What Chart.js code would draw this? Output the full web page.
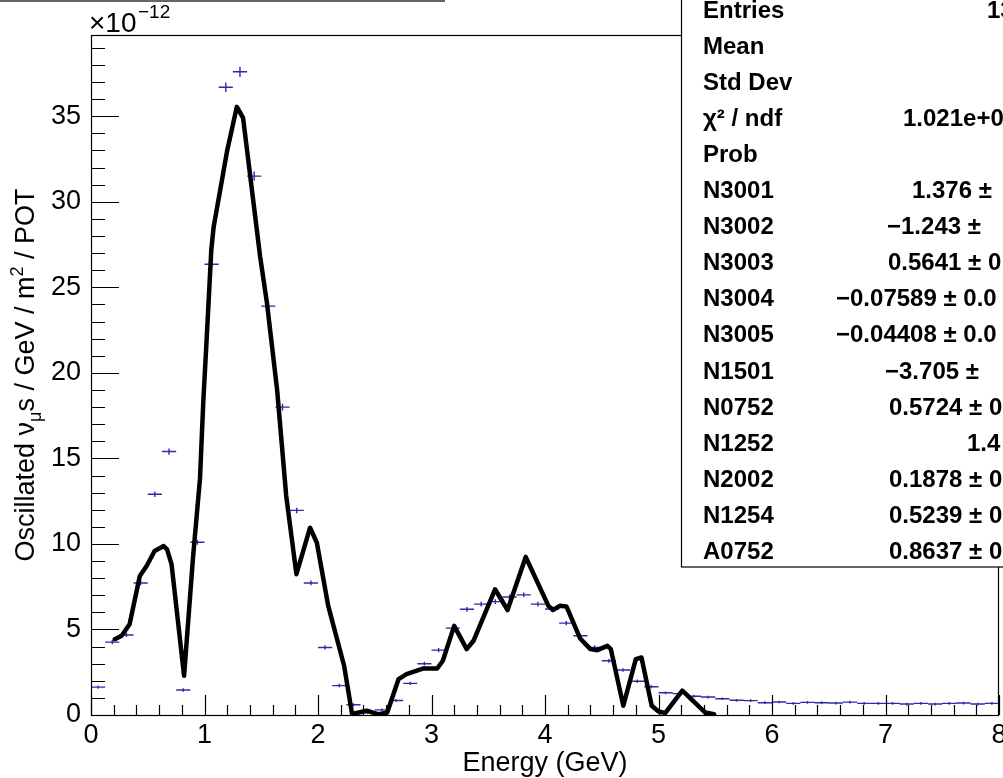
<!DOCTYPE html>
<html>
<head>
<meta charset="utf-8">
<script src="https://cdn.jsdelivr.net/npm/chart.js@4.4.0/dist/chart.umd.min.js"></script>
<style>
  html, body { margin: 0; padding: 0; background: #fff; }
  #wrap { width: 1003px; height: 778px; }
</style>
</head>
<body>
<div id="wrap"><canvas id="chart" width="1003" height="778"></canvas></div>
<script>
// energy bin centres (GeV), bin width 0.125
const binCenters = [
  0.0625, 0.1875, 0.3125, 0.4375, 0.5625, 0.6875, 0.8125, 0.9375,
  1.0625, 1.1875, 1.3125, 1.4375, 1.5625, 1.6875, 1.8125, 1.9375,
  2.0625, 2.1875, 2.3125, 2.4375, 2.5625, 2.6875, 2.8125, 2.9375,
  3.0625, 3.1875, 3.3125, 3.4375, 3.5625, 3.6875, 3.8125, 3.9375,
  4.0625, 4.1875, 4.3125, 4.4375, 4.5625, 4.6875, 4.8125, 4.9375,
  5.0625, 5.1875, 5.3125, 5.4375, 5.5625, 5.6875, 5.8125, 5.9375,
  6.0625, 6.1875, 6.3125, 6.4375, 6.5625, 6.6875, 6.8125, 6.9375,
  7.0625, 7.1875, 7.3125, 7.4375, 7.5625, 7.6875, 7.8125, 7.9375
];
const halfBin = 0.0625;

// oscillated numu flux, units of 1e-12
const fluxValues = [
  1.63, 4.26, 4.68, 7.72, 12.9, 15.4, 1.46, 10.1,
  26.35, 36.7, 37.6, 31.5, 23.9, 18.0, 11.96, 7.72,
  3.95, 1.72, 0.6, 0.15, 0.3, 0.85, 1.85, 3.0,
  3.79, 5.08, 6.18, 6.48, 6.63, 6.9, 7.02, 6.48,
  6.2, 5.37, 4.63, 3.95, 3.17, 2.63, 1.97, 1.65,
  1.30, 1.25, 1.10, 1.05, 0.95, 0.86, 0.84, 0.72,
  0.76, 0.68, 0.74, 0.72, 0.70, 0.75, 0.68, 0.68,
  0.68, 0.64, 0.68, 0.64, 0.68, 0.70, 0.64, 0.68
];
const fluxErrors = [
  0.10, 0.12, 0.12, 0.14, 0.16, 0.18, 0.10, 0.15,
  0.24, 0.28, 0.30, 0.27, 0.23, 0.20, 0.16, 0.14,
  0.12, 0.10, 0.09, 0.08, 0.08, 0.09, 0.10, 0.11,
  0.12, 0.13, 0.14, 0.14, 0.14, 0.14, 0.14, 0.14,
  0.14, 0.13, 0.12, 0.12, 0.11, 0.10, 0.10, 0.09,
  0.08, 0.08, 0.08, 0.08, 0.08, 0.08, 0.08, 0.08,
  0.08, 0.08, 0.08, 0.08, 0.08, 0.08, 0.08, 0.08,
  0.08, 0.08, 0.08, 0.08, 0.08, 0.08, 0.08, 0.08
];

// fit function, sampled
const fitEnergy = [
  0.21, 0.27, 0.34, 0.43, 0.49, 0.56, 0.64, 0.67, 0.71, 0.82, 0.90, 0.96,
  0.99, 1.02, 1.06, 1.08, 1.20, 1.285, 1.34, 1.49, 1.55, 1.64, 1.72, 1.81,
  1.93, 1.99, 2.09, 2.23, 2.30, 2.36, 2.43, 2.52, 2.55, 2.61, 2.71, 2.78,
  2.93, 3.05, 3.10, 3.20, 3.31, 3.37, 3.56, 3.67, 3.83, 4.03, 4.07, 4.13,
  4.19, 4.31, 4.40, 4.46, 4.55, 4.58, 4.69, 4.80, 4.85, 4.94, 5.00, 5.06,
  5.21, 5.41, 5.49
];
const fitValues = [
  4.43, 4.63, 5.31, 8.13, 8.71, 9.59, 9.88, 9.68, 8.8, 2.29, 9.3, 13.8,
  18.4, 22.1, 27.2, 28.5, 33.0, 35.55, 34.9, 26.8, 24.1, 19.0, 12.8, 8.23,
  10.95, 10.07, 6.38, 2.88, 0.06, 0.15, 0.25, 0.06, 0.06, 0.15, 2.1, 2.39,
  2.72, 2.72, 3.17, 5.21, 3.85, 4.34, 7.35, 6.14, 9.24, 6.38, 6.14, 6.38,
  6.34, 4.47, 3.85, 3.79, 4.04, 3.85, 0.54, 3.27, 3.36, 0.54, 0.2, 0.12,
  1.42, 0.15, 0.05
];

const xMajorTicks = [0, 1, 2, 3, 4, 5, 6, 7, 8];
const yMajorTicks = [0, 5, 10, 15, 20, 25, 30, 35];

const statNames = ['Entries', 'Mean', 'Std Dev', 'χ² / ndf', 'Prob', 'N3001', 'N3002', 'N3003',
  'N3004', 'N3005', 'N1501', 'N0752', 'N1252', 'N2002', 'N1254', 'A0752'];
const statValues = ['13', '', '', '1.021e+0', '', '1.376 ±', '−1.243 ±', '0.5641 ± 0',
  '−0.07589 ± 0.0', '−0.04408 ± 0.0', '−3.705 ±', '0.5724 ± 0', '1.4', '0.1878 ± 0', '0.5239 ± 0', '0.8637 ± 0'];
const statValueLeft = [987, 0, 0, 903, 0, 912, 887, 888, 836, 836, 885, 889, 967, 889, 889, 889];

const BLUE = '#2c2ca8';
const FONT = '"Liberation Sans", Arial, Helvetica, sans-serif';

const errorBars = {
  id: 'errorBars',
  beforeDatasetsDraw(chart) {
    const { ctx, chartArea: a, scales: { x, y } } = chart;
    ctx.save();
    ctx.beginPath();
    ctx.rect(a.left, a.top, a.right - a.left, a.bottom - a.top);
    ctx.clip();
    ctx.strokeStyle = BLUE;
    ctx.lineWidth = 1.4;
    ctx.beginPath();
    binCenters.forEach((e, i) => {
      const py = y.getPixelForValue(fluxValues[i]);
      const px = x.getPixelForValue(e);
      ctx.moveTo(x.getPixelForValue(e - halfBin), py);
      ctx.lineTo(x.getPixelForValue(e + halfBin), py);
      ctx.moveTo(px, y.getPixelForValue(fluxValues[i] - fluxErrors[i]));
      ctx.lineTo(px, y.getPixelForValue(fluxValues[i] + fluxErrors[i]));
    });
    ctx.stroke();
    ctx.restore();
  }
};

const rootFrame = {
  id: 'rootFrame',
  afterDraw(chart) {
    const { ctx, chartArea: a, scales: { x, y } } = chart;
    ctx.save();
    ctx.strokeStyle = '#000';
    ctx.lineWidth = 1.2;

    // frame
    ctx.strokeRect(a.left + 0.5, a.top + 0.5, a.right - a.left - 1, a.bottom - a.top);

    // x ticks
    ctx.beginPath();
    for (let v = 0; v <= 8.001; v += 0.2) {
      const px = Math.round(x.getPixelForValue(v)) + 0.5;
      const major = Math.abs(v - Math.round(v)) < 0.01;
      ctx.moveTo(px, a.bottom);
      ctx.lineTo(px, a.bottom - (major ? 20 : 10));
    }
    // y ticks
    for (let v = 0; v <= 39; v += 1) {
      const py = Math.round(y.getPixelForValue(v)) + 0.5;
      const major = v % 5 === 0;
      ctx.moveTo(a.left, py);
      ctx.lineTo(a.left + (major ? 28 : 14), py);
    }
    ctx.stroke();

    ctx.fillStyle = '#000';
    ctx.font = '27px ' + FONT;
    ctx.textAlign = 'center';
    ctx.textBaseline = 'top';
    xMajorTicks.forEach(v => ctx.fillText(String(v), x.getPixelForValue(v), a.bottom + 7));
    ctx.textAlign = 'right';
    ctx.textBaseline = 'middle';
    yMajorTicks.forEach(v => ctx.fillText(String(v), a.left - 10, y.getPixelForValue(v)));

    // multiplier
    ctx.textAlign = 'left';
    ctx.textBaseline = 'alphabetic';
    ctx.font = '28px ' + FONT;
    ctx.fillText('×10', 89, 32);
    ctx.font = '19px ' + FONT;
    ctx.fillText('−12', 138, 18);

    // axis titles
    ctx.font = '27px ' + FONT;
    ctx.textAlign = 'center';
    ctx.fillText('Energy (GeV)', (a.left + a.right) / 2, 771);

    ctx.save();
    ctx.translate(34, (a.top + a.bottom) / 2);
    ctx.rotate(-Math.PI / 2);
    const parts = [
      ['Oscillated ν', 27, 0], ['μ', 18, 7], ['s / GeV / m', 27, 0], ['2', 18, -11], [' / POT', 27, 0]
    ];
    let total = 0;
    parts.forEach(p => { ctx.font = p[1] + 'px ' + FONT; total += ctx.measureText(p[0]).width; });
    let cx = -total / 2;
    ctx.textAlign = 'left';
    parts.forEach(p => {
      ctx.font = p[1] + 'px ' + FONT;
      ctx.fillText(p[0], cx, p[2]);
      cx += ctx.measureText(p[0]).width;
    });
    ctx.restore();

    // title pave edge
    ctx.strokeStyle = '#333';
    ctx.lineWidth = 1.5;
    ctx.beginPath();
    ctx.moveTo(0, 1);
    ctx.lineTo(445, 1);
    ctx.stroke();

    // stats box
    ctx.fillStyle = '#fff';
    ctx.fillRect(681, -2, 330, 569);
    ctx.strokeStyle = '#000';
    ctx.lineWidth = 1.2;
    ctx.strokeRect(681.5, -2, 330, 569);
    ctx.fillStyle = '#000';
    ctx.textAlign = 'left';
    statNames.forEach((n, i) => {
      const base = 18 + 36.05 * i;
      ctx.font = 'bold 24px ' + FONT;
      ctx.fillText(n, 703, base);
      if (statValues[i]) ctx.fillText(statValues[i], statValueLeft[i], base);
    });
    ctx.restore();
  }
};

new Chart(document.getElementById('chart'), {
  type: 'scatter',
  data: {
    datasets: [
      {
        type: 'line',
        label: 'fit',
        data: fitEnergy.map((e, i) => ({ x: e, y: fitValues[i] })),
        borderColor: '#000',
        borderWidth: 4.5,
        borderJoinStyle: 'round',
        borderCapStyle: 'round',
        pointRadius: 0,
        tension: 0,
        fill: false
      },
      {
        label: 'flux',
        data: binCenters.map((e, i) => ({ x: e, y: fluxValues[i] })),
        pointRadius: 0,
        showLine: false
      }
    ]
  },
  options: {
    responsive: false,
    devicePixelRatio: 1,
    animation: false,
    layout: { padding: { left: 91, right: 4, top: 35, bottom: 63 } },
    plugins: { legend: { display: false }, tooltip: { enabled: false } },
    scales: {
      x: { type: 'linear', min: 0, max: 8, display: false },
      y: { type: 'linear', min: 0, max: 39.75, display: false }
    }
  },
  plugins: [errorBars, rootFrame]
});
</script>
</body>
</html>
